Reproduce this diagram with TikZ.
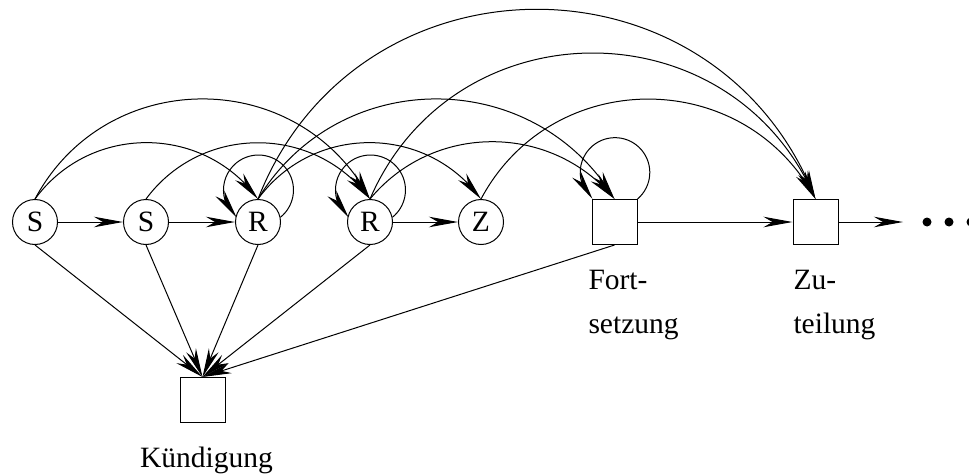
\documentclass[tikz,border=0pt]{standalone}
\usepackage{fontspec}
\setmainfont{Liberation Serif}
\usetikzlibrary{arrows.meta,bending}

\begin{document}
\begin{tikzpicture}[x=1pt,y=1pt,
  line width=1pt,
  >={Stealth[length=29pt,width=10.5pt,inset=9pt]},
  every node/.style={font=\fontsize{29.5}{34}\selectfont},
  state/.style={circle,draw,minimum size=45pt,inner sep=0pt},
  box/.style={rectangle,draw,minimum size=45pt,inner sep=0pt},
  lbl/.style={inner sep=0pt,anchor=base west},
  dot/.style={circle,fill,minimum size=9pt,inner sep=0pt},
]
\useasboundingbox (0,0) rectangle (969,-474);

% states
\node[state] (S1) at (35,-222) {S};
\node[state] (S2) at (146,-222) {S};
\node[state] (R1) at (258,-222) {R};
\node[state] (R2) at (370,-222) {R};
\node[state] (Z)  at (481,-222) {Z};
\node[box] (F)  at (614.5,-222) {};
\node[box] (Zu) at (815.5,-222) {};
\node[box] (K)  at (202.5,-400) {};

% labels
\node[lbl] (Fa) at (588,-289) {Fort-};
\node[lbl] (Fb) at (588,-333) {setzung};
\node[lbl] (Za) at (793,-289) {Zu-};
\node[lbl] (Zb) at (793,-333) {teilung};
\node[inner sep=0pt,anchor=base] (Kl) at (206.5,-467) {Kündigung};

% continuation
\coordinate (more) at (903,-222);
\node[dot] (d1) at (927,-222) {};
\node[dot] (d2) at (949,-222) {};
\node[dot] (d3) at (971,-222) {};

% straight transitions
\draw[->] (S1) -- (S2);
\draw[->] (S2) -- (R1);
\draw[->] (R2) -- (Z);
\draw[->] (F) -- (Zu);
\draw[->] (Zu.east) -- (more);

% transitions to Kuendigung
\draw[->] (S1.south) -- (K.north);
\draw[->] (S2.south) -- (K.north);
\draw[->] (R1.south) -- (K.north);
\draw[->] (R2.south) -- (K.north);
\draw[->] (F.south) -- (K.north);

% arcs over the top
\draw[->] (S1.north) to[bend left=53.8, looseness=1.071] (R1.north);
\draw[->] (S1.north) to[bend left=61.9, looseness=1.158] (R2.north);
\draw[->] (S2.north) to[bend left=53.5, looseness=1.068] (R2.north);
\draw[->] (R1.north) to[bend left=53.8, looseness=1.071] (Z.north);
\draw[->] (R1.north) to[bend left=58.8, looseness=1.122] (F.north);
\draw[->] (R2.north) to[bend left=50.4, looseness=1.040] (F.north);
\draw[->] (R1.north) to[bend left=68.7, looseness=1.249] (Zu.north);
\draw[->] (R2.north) to[bend left=66.7, looseness=1.220] (Zu.north);
\draw[->] (Z.north)  to[bend left=61.9, looseness=1.158] (Zu.north);

% self loops (circular arcs)
\draw[->] (R1.12) arc[start angle=-51, end angle=231, radius=35];
\draw[->] (R2.12) arc[start angle=-51, end angle=231, radius=35];
\draw[->] (F.north east) arc[start angle=-49.7, end angle=229.7, radius=34.8];
\end{tikzpicture}
\end{document}
